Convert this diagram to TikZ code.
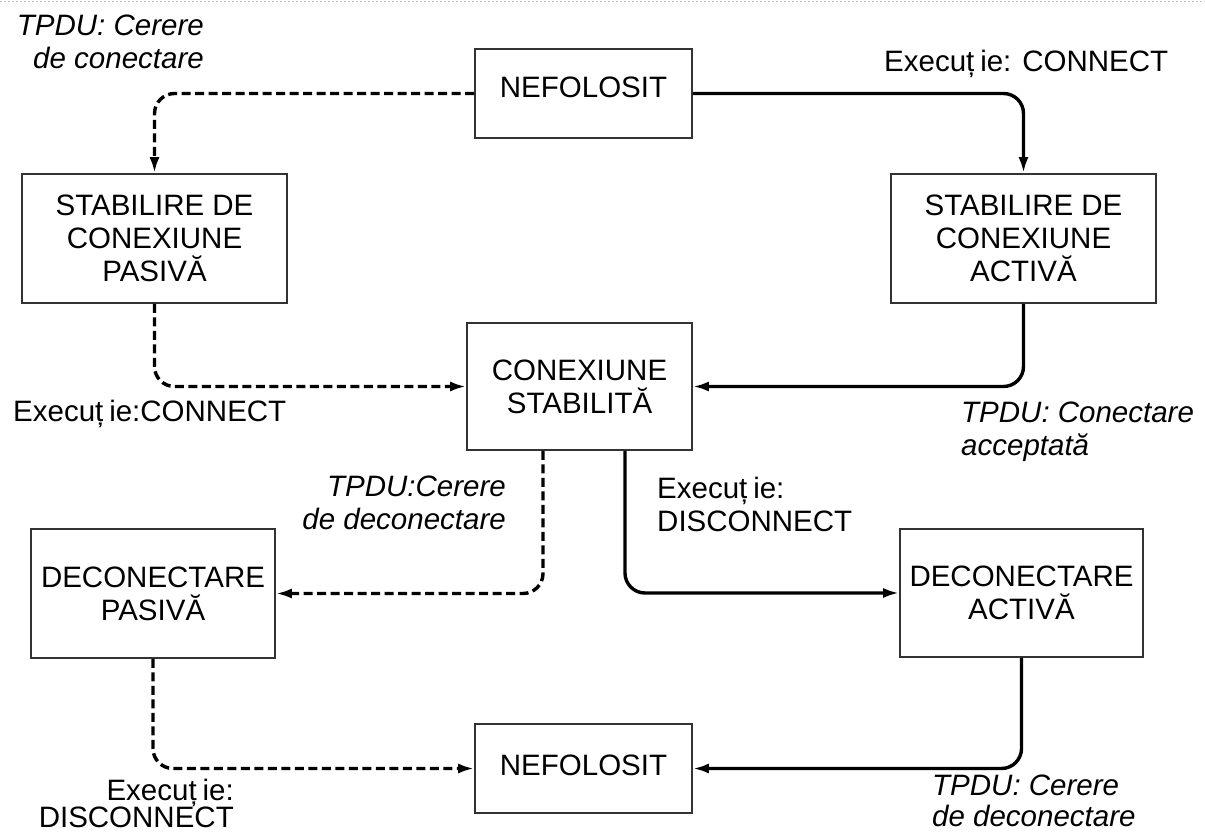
\documentclass[tikz,border=0pt]{standalone}
\usepackage{fontspec}
\setmainfont{Liberation Sans}
\usetikzlibrary{arrows.meta}
% "Execuție" as set in the figure, with its loose ț
\newcommand{\execlbl}{Execuț\kern0.2em ie}
\begin{document}
\begin{tikzpicture}[x=1pt,y=-1pt,
  font=\fontsize{29.5}{33}\selectfont,
  state/.style={draw=black!80, line width=1.7pt, align=center, inner sep=0pt},
  link/.style={line width=3.4pt, rounded corners=20pt, -{Latex[length=16pt,width=10pt]}},
  passive/.style={link, dash pattern=on 9pt off 4.5pt},
  lbl/.style={inner sep=0pt},
  tpdu/.style={lbl, font=\fontsize{29.5}{33}\selectfont\itshape}]
\useasboundingbox (0,0) rectangle (1205,834);

% faint perforation along the top edge
\draw[black!25, line width=1pt, dash pattern=on 2pt off 2pt] (0,2) -- (1205,2);

% states
\node[state, minimum width=217pt, minimum height=89pt, text depth=12pt] (nA) at (583.5,93.5) {NEFOLOSIT};
\node[state, minimum width=265pt, minimum height=129pt] (sP) at (154.5,238.5) {STABILIRE DE\\CONEXIUNE\\PASIVĂ};
\node[state, minimum width=265pt, minimum height=129pt] (sA) at (1023.5,238.5) {STABILIRE DE\\CONEXIUNE\\ACTIVĂ};
\node[state, minimum width=225pt, minimum height=127pt] (cS) at (579.5,386.5) {CONEXIUNE\\STABILITĂ};
\node[state, minimum width=244pt, minimum height=129pt] (dP) at (153,593.5) {DECONECTARE\\PASIVĂ};
\node[state, minimum width=243pt, minimum height=128pt] (dA) at (1021.5,593) {DECONECTARE\\ACTIVĂ};
\node[state, minimum width=217pt, minimum height=89pt, text depth=7pt] (nB) at (583.5,768.5) {NEFOLOSIT};

% transitions
\draw[passive] (nA.west) -| (sP.north);
\draw[link] (nA.east) -| (sA.north);
\draw[passive] (sP.south) |- (cS.west);
\draw[link] (sA.south) |- (cS.east);
\draw[passive] ([xshift=-36.5pt]cS.south) |- (dP.east);
\draw[link] ([xshift=45.5pt]cS.south) |- (dA.west);
\draw[passive] (dP.south) |- (nB.west);
\draw[link] (dA.south) |- (nB.east);

% transition labels
\node[tpdu, anchor=north east, align=right] (l1) at (204,14.5) {TPDU: Cerere\\de conectare};
\node[lbl, anchor=north west] (l2) at (884,49.5) {\execlbl: CONNECT};
\node[lbl, anchor=north west] (l3) at (13,399.5) {\execlbl:CONNECT};
\node[tpdu, anchor=north west, align=left] (l4) at (961,401.5) {TPDU: Conectare\\acceptată};
\node[tpdu, anchor=north east, align=right] (l5) at (506,475.5) {TPDU:Cerere\\de deconectare};
\node[lbl, anchor=north west, align=left] (l6) at (657,476.5) {\execlbl:\\DISCONNECT};
\node[lbl, anchor=north east, align=right, font=\fontsize{29.5}{27}\selectfont] (l7) at (234,778.5) {\execlbl:\\DISCONNECT};
\node[tpdu, anchor=north west, align=left, font=\fontsize{29.5}{31}\selectfont\itshape] (l8) at (932,775) {TPDU: Cerere\\de deconectare};
\end{tikzpicture}
\end{document}
